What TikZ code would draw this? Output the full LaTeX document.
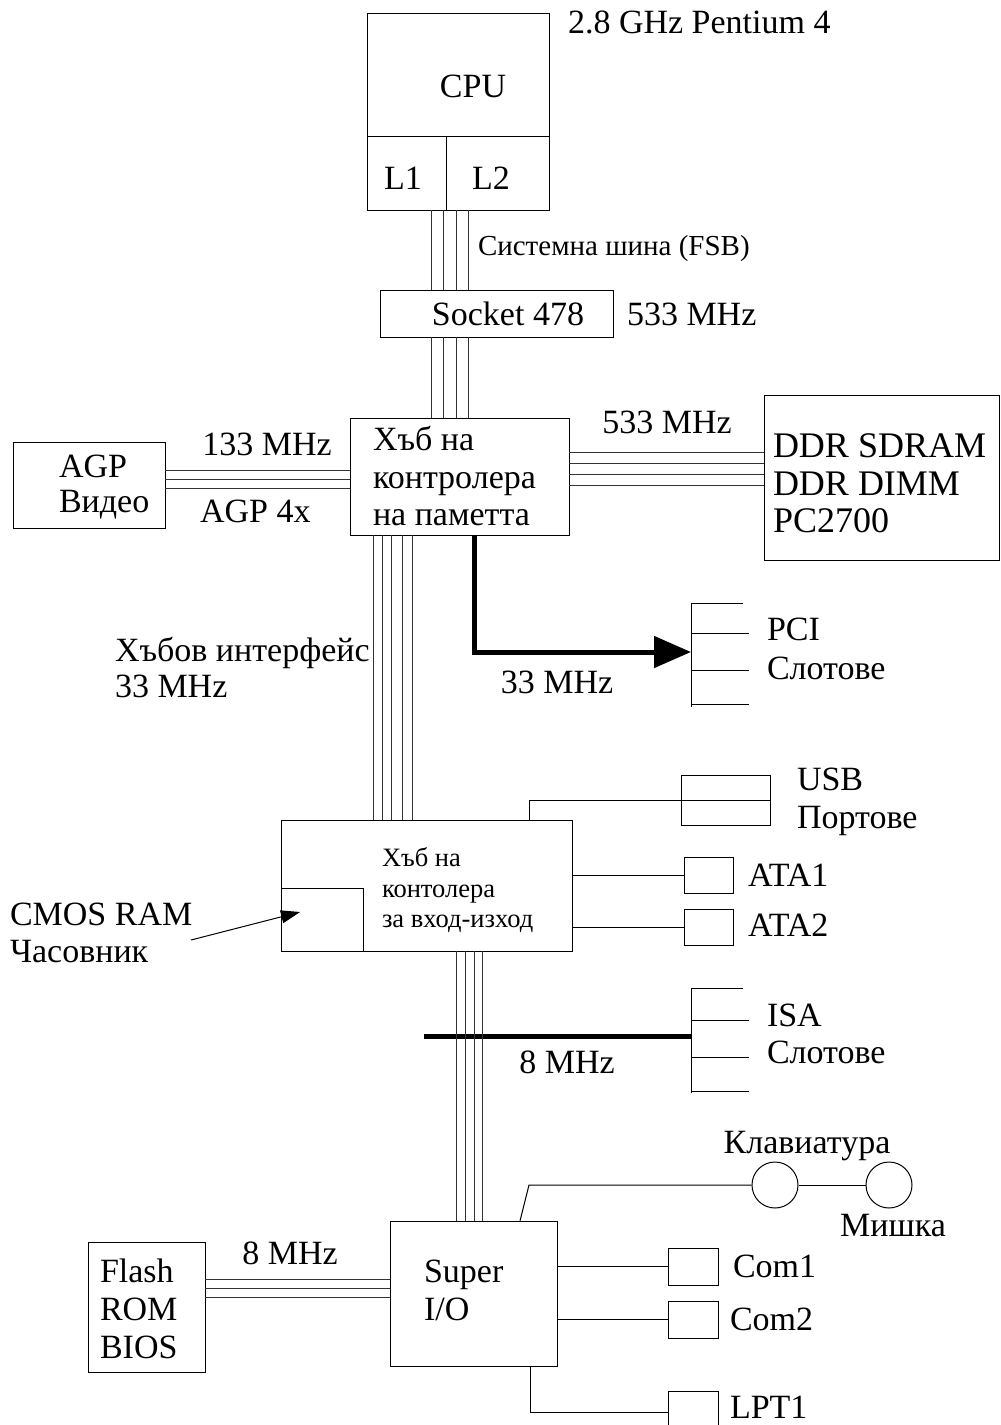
\documentclass[tikz,border=0pt]{standalone}
\usepackage{fontspec}
\setmainfont{Liberation Serif}
\usetikzlibrary{arrows.meta}
\tikzset{
  box/.style={draw=black, line width=1pt, inner sep=0pt, outer sep=0pt},
  wire/.style={line width=1pt, draw=black},
  bus/.style={line width=0.9pt, draw=black!80},
  thickbus/.style={line width=5pt, draw=black},
  lbl/.style={font=\fontsize{34}{38}\selectfont, inner sep=0pt, outer sep=0pt, anchor=base west},
  lblc/.style={lbl, anchor=base},
  lblbig/.style={font=\fontsize{36}{40}\selectfont, inner sep=0pt, outer sep=0pt, anchor=base west},
  lblsmall/.style={font=\fontsize{29}{32}\selectfont, inner sep=0pt, outer sep=0pt, anchor=base west},
  lbltiny/.style={font=\fontsize{26.5}{30}\selectfont, inner sep=0pt, outer sep=0pt, anchor=base west},
}
\begin{document}
\begin{tikzpicture}[x=1pt,y=-1pt]
\fill[white] (0,0) rectangle (1001,1425);
\useasboundingbox (0,0) rectangle (1001,1425);

% ---------- CPU ----------
\node[box, minimum width=182pt, minimum height=197pt] (cpu) at (458,111.5) {};
\node[box, minimum width=79pt, minimum height=74pt] (l1) at (406.5,173) {};
\node[box, minimum width=103pt, minimum height=74pt] (l2) at (497.5,173) {};
\node[lblc] (cputxt) at (473,97) {CPU};
\node[lblc] (l1txt) at (403,189) {L1};
\node[lblc] (l2txt) at (491,189) {L2};
\node[lbl] (p4) at (568,33) {2.8 GHz Pentium 4};

% ---------- Socket ----------
\node[box, minimum width=233pt, minimum height=47pt] (sock) at (496.5,313.5) {};
\node[lblc] (socktxt) at (508,325) {Socket 478};
\node[lbl] (fsbfreq) at (627,325) {533 MHz};
\node[lblsmall] (fsbtxt) at (478,255) {Системна шина (FSB)};

% ---------- Memory controller hub ----------
\node[box, minimum width=219pt, minimum height=117pt] (mch) at (459.5,476.5) {};
\node[lbl] (mcht1) at (373,450) {Хъб на};
\node[lbl] (mcht2) at (373,488) {контролера};
\node[lbl] (mcht3) at (373,525) {на паметта};

\foreach \x in {431,443,456,468} {
  \draw[bus] (cpu.south -| \x,0) -- (sock.north -| \x,0);
  \draw[bus] (sock.south -| \x,0) -- (mch.north -| \x,0);
}

% ---------- AGP ----------
\node[box, minimum width=152pt, minimum height=86pt] (agp) at (89,485) {};
\node[lbl] (agpt1) at (59,477) {AGP};
\node[lbl] (agpt2) at (59,512) {Видео};
\foreach \y in {470,479,488}
  \draw[bus] (agp.east |- 0,\y) -- (mch.west |- 0,\y);
\node[lblc] (agpfreq) at (267,455) {133 MHz};
\node[lbl] (agp4x) at (200,522) {AGP 4x};

% ---------- DDR ----------
\node[box, minimum width=235pt, minimum height=165pt] (ddr) at (881.5,477.5) {};
\node[lblbig] (ddrt1) at (773,457) {DDR SDRAM};
\node[lblbig] (ddrt2) at (773,495) {DDR DIMM};
\node[lblbig] (ddrt3) at (773,532) {PC2700};
\foreach \y in {452,463,474,485}
  \draw[bus] (mch.east |- 0,\y) -- (ddr.west |- 0,\y);
\node[lblc] (ddrfreq) at (667,433) {533 MHz};

% ---------- PCI ----------
\coordinate (pcitip) at (691,652);
\coordinate (pcitop) at (691,603);
\coordinate (pcibot) at (691,707);
\draw[thickbus, -{Triangle[length=37pt,width=31pt]}] (mch.south -| 474,0) |- (pcitip);
\draw[wire] (pcitop) -- (pcibot);
\draw[wire] (pcitop) -- ++(52,0);
\foreach \y in {633,670,704}
  \draw[wire] (pcitop |- 0,\y) -- ++(58,0);
\node[lbl] (pcit1) at (767,640) {PCI};
\node[lbl] (pcit2) at (767,679) {Слотове};
\node[lblc] (pcifreq) at (557,693) {33 MHz};

\node[lbl] (hubif1) at (115,661) {Хъбов интерфейс};
\node[lbl] (hubif2) at (115,697) {33 MHz};

% ---------- I/O controller hub ----------
\node[box, minimum width=291pt, minimum height=131pt] (ich) at (426.5,885.5) {};
\node[box, minimum width=82pt, minimum height=63pt] (cmos) at (322,919.5) {};
\node[lbltiny] (icht1) at (382,866) {Хъб на};
\node[lbltiny] (icht2) at (382,897) {контолера};
\node[lbltiny] (icht3) at (382,927) {за вход-изход};
\foreach \x in {373,382,391,402,412}
  \draw[bus] (mch.south -| \x,0) -- (ich.north -| \x,0);

\node[lbl] (cmost1) at (10,925) {CMOS RAM};
\node[lbl] (cmost2) at (10,962) {Часовник};
\coordinate (cmosfrom) at (191,940);
\coordinate (cmostip) at (300,912);
\draw[wire, -{Triangle[length=19pt,width=13pt]}] (cmosfrom) -- (cmostip);

% USB
\node[box, minimum width=89pt, minimum height=50pt] (usb) at (725.5,800) {};
\draw[wire] (ich.north -| 529,0) |- (usb.west) -- (usb.east);
\node[lbl] (usbt1) at (797,790) {USB};
\node[lbl] (usbt2) at (797,828) {Портове};

% ATA
\node[box, minimum width=49pt, minimum height=36pt] (ata1) at (708.5,875) {};
\node[box, minimum width=49pt, minimum height=36pt] (ata2) at (708.5,927) {};
\draw[wire] (ich.east |- ata1.west) -- (ata1.west);
\draw[wire] (ich.east |- ata2.west) -- (ata2.west);
\node[lbl] (ata1t) at (748,886) {ATA1};
\node[lbl] (ata2t) at (748,936) {ATA2};

% ---------- ISA ----------
\coordinate (isafrom) at (424,1036);
\coordinate (isato) at (691,1036);
\coordinate (isatop) at (691,988);
\coordinate (isabot) at (691,1093);
\draw[thickbus] (isafrom) -- (isato);
\draw[wire] (isatop) -- (isabot);
\draw[wire] (isatop) -- ++(52,0);
\foreach \y in {1020,1057,1091}
  \draw[wire] (isatop |- 0,\y) -- ++(58,0);
\node[lbl] (isat1) at (767,1026) {ISA};
\node[lbl] (isat2) at (767,1063) {Слотове};
\node[lblc] (isafreq) at (567,1073) {8 MHz};

% ---------- Super I/O ----------
\node[box, minimum width=167pt, minimum height=145pt] (sio) at (473.5,1293.5) {};
\node[lbl] (siot1) at (424,1282) {Super};
\node[lbl] (siot2) at (424,1320) {I/O};
\foreach \x in {456,465,474,482}
  \draw[bus] (ich.south -| \x,0) -- (sio.north -| \x,0);

% Flash
\node[box, minimum width=117pt, minimum height=130pt] (flash) at (146.5,1307) {};
\node[lbl] (flasht1) at (100,1282) {Flash};
\node[lbl] (flasht2) at (100,1320) {ROM};
\node[lbl] (flasht3) at (100,1358) {BIOS};
\foreach \y in {1279,1288,1297}
  \draw[bus] (flash.east |- 0,\y) -- (sio.west |- 0,\y);
\node[lblc] (flashfreq) at (290,1264) {8 MHz};

% Keyboard / mouse
\node[draw, circle, line width=1pt, minimum size=46pt, inner sep=0pt] (kbd) at (775,1185) {};
\node[draw, circle, line width=1pt, minimum size=46pt, inner sep=0pt] (mouse) at (889,1185) {};
\coordinate (kbdbend) at (529,1185);
\draw[wire] (sio.north -| 520,0) -- (kbdbend) -- (kbd.west);
\draw[wire] (kbd.east) -- (mouse.west);
\node[lblc] (kbdt) at (807,1153) {Клавиатура};
\node[lblc] (mouset) at (893,1236) {Мишка};

% COM / LPT
\node[box, minimum width=50pt, minimum height=37pt] (com1) at (693,1266.5) {};
\node[box, minimum width=50pt, minimum height=37pt] (com2) at (693,1319.5) {};
\node[box, minimum width=50pt, minimum height=42pt] (lpt) at (693,1412) {};
\draw[wire] (sio.east |- com1.west) -- (com1.west);
\draw[wire] (sio.east |- com2.west) -- (com2.west);
\draw[wire] (sio.south -| 530,0) |- (lpt.west);
\node[lbl] (com1t) at (733,1277) {Com1};
\node[lbl] (com2t) at (730,1330) {Com2};
\node[lbl] (lptt) at (730,1418) {LPT1};
\end{tikzpicture}
\end{document}
